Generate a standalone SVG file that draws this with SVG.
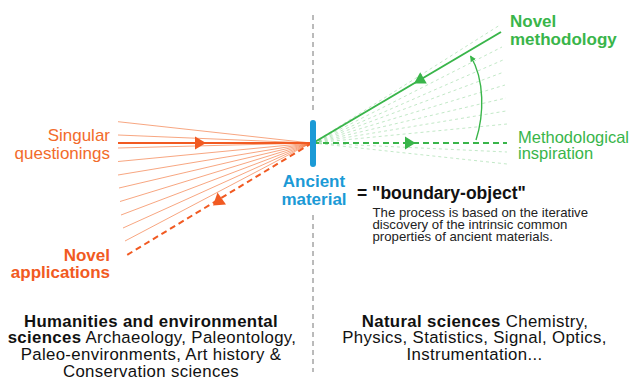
<svg xmlns="http://www.w3.org/2000/svg" width="632" height="383" viewBox="0 0 632 383">
<style>
text{font-family:"Liberation Sans",Arial,sans-serif}
.or{fill:#f15a22}
.orl{fill:#f26b2b}
.gr{fill:#39b54a}
.bl{fill:#1b9ad6}
.b{font-weight:bold}
.t17{font-size:17px}
.bot{font-size:16.8px;letter-spacing:0.35px;fill:#111}
.par{font-size:13.2px;fill:#222}
.fanO{stroke:#f26a2c;stroke-width:0.8;opacity:0.75;fill:none}
.fanG{stroke:#39b54a;stroke-width:0.9;opacity:0.35;stroke-dasharray:3 3;fill:none}
.sepl{stroke:#777;stroke-width:1;stroke-dasharray:5 4;fill:none}
</style>
<defs>
<marker id="ah" viewBox="0 0 10 10" refX="9" refY="5" markerWidth="6" markerHeight="6" orient="auto" markerUnits="userSpaceOnUse">
<path d="M0,0 L10,5 L0,10 z" fill="#39b54a"/>
</marker>
</defs>
<rect width="632" height="383" fill="#fff"/>

<g id="connectors">
<line class="sepl" x1="313" y1="15" x2="313" y2="113"/>
<line class="sepl" x1="313" y1="215" x2="313" y2="372"/>
<g id="orange-fan">
<line class="fanO" x1="311" y1="143" x2="118" y2="121.7"/>
<line class="fanO" x1="311" y1="143" x2="118" y2="135"/>
<line class="fanO" x1="311" y1="143" x2="118" y2="148"/>
<line class="fanO" x1="311" y1="143" x2="118" y2="161.5"/>
<line class="fanO" x1="311" y1="143" x2="118" y2="175"/>
<line class="fanO" x1="311" y1="143" x2="119" y2="188"/>
<line class="fanO" x1="311" y1="143" x2="120" y2="201.5"/>
<line class="fanO" x1="311" y1="143" x2="121" y2="215"/>
<line class="fanO" x1="311" y1="143" x2="123" y2="228"/>
<line class="fanO" x1="311" y1="143" x2="125" y2="241"/>
</g>
<g id="green-fan">
<line class="fanG" x1="313" y1="143" x2="500" y2="25"/>
<line class="fanG" x1="313" y1="143" x2="502" y2="47"/>
<line class="fanG" x1="313" y1="143" x2="503" y2="60"/>
<line class="fanG" x1="313" y1="143" x2="504" y2="72"/>
<line class="fanG" x1="313" y1="143" x2="505" y2="85"/>
<line class="fanG" x1="313" y1="143" x2="506" y2="98"/>
<line class="fanG" x1="313" y1="143" x2="506" y2="111"/>
<line class="fanG" x1="313" y1="143" x2="507" y2="124"/>
<line class="fanG" x1="313" y1="143" x2="507" y2="152"/>
<line class="fanG" x1="313" y1="143" x2="507" y2="164"/>
</g>
<line x1="118" y1="143" x2="312" y2="143" stroke="#f15a22" stroke-width="2"/>
<polygon points="195,136.5 206,143 195,149.5" fill="#f15a22"/>
<line x1="312" y1="143" x2="127" y2="255" stroke="#f15a22" stroke-width="2" stroke-dasharray="6 4"/>
<polygon points="217.5,192.5 213,205.5 226,204.5" fill="#f15a22"/>
<line x1="313" y1="143" x2="501" y2="32" stroke="#39b54a" stroke-width="2"/>
<polygon points="414,83.5 420.2,72.3 426.8,83.5" fill="#39b54a"/>
<line x1="313" y1="143" x2="507" y2="143" stroke="#39b54a" stroke-width="2" stroke-dasharray="6 4"/>
<polygon points="405,136.5 415.5,143 405,149.5" fill="#39b54a"/>
<path d="M476,140 C484,115 485,80 470.5,56" stroke="#39b54a" stroke-width="1.4" fill="none" marker-end="url(#ah)"/>
</g>

<g id="ancient-material">
<line x1="313" y1="123" x2="313" y2="164" stroke="#1b9ad6" stroke-width="6" stroke-linecap="round"/>
<text class="bl b t17" x="314" y="187" text-anchor="middle">Ancient</text>
<text class="bl b t17" x="314" y="204.5" text-anchor="middle">material</text>
</g>

<g id="singular-questionings">
<text class="orl t17" x="110" y="141" text-anchor="end">Singular</text>
<text class="orl t17" x="110" y="158.5" text-anchor="end">questionings</text>
</g>

<g id="novel-applications">
<text class="or b t17" x="110" y="261" text-anchor="end">Novel</text>
<text class="or b t17" x="110" y="278" text-anchor="end">applications</text>
</g>

<g id="novel-methodology">
<text class="gr b t17" x="510" y="27">Novel</text>
<text class="gr b t17" x="510" y="45">methodology</text>
</g>

<g id="methodological-inspiration">
<text class="gr" x="518" y="142.5" font-size="16.5">Methodological</text>
<text class="gr" x="518" y="159" font-size="16.5">inspiration</text>
</g>

<g id="boundary-object">
<text x="357" y="198.5" font-size="17.5" font-weight="bold" fill="#111">= "boundary-object"</text>
<text class="par" x="372.5" y="216.5">The process is based on the iterative</text>
<text class="par" x="372.5" y="228.8">discovery of the intrinsic common</text>
<text class="par" x="372.5" y="241.1">properties of ancient materials.</text>
</g>

<g id="humanities">
<text class="bot" x="151" y="326.7" text-anchor="middle"><tspan font-weight="bold">Humanities and environmental</tspan></text>
<text class="bot" x="152" y="343.3" text-anchor="middle"><tspan font-weight="bold">sciences</tspan> Archaeology, Paleontology,</text>
<text class="bot" x="151" y="360" text-anchor="middle">Paleo-environments, Art history &amp;</text>
<text class="bot" x="151" y="377.3" text-anchor="middle">Conservation sciences</text>
</g>

<g id="natural-sciences">
<text class="bot" x="475" y="326.7" text-anchor="middle"><tspan font-weight="bold">Natural sciences</tspan> Chemistry,</text>
<text class="bot" x="474.5" y="343.3" text-anchor="middle">Physics, Statistics, Signal, Optics,</text>
<text class="bot" x="474.5" y="360" text-anchor="middle">Instrumentation...</text>
</g>
</svg>
